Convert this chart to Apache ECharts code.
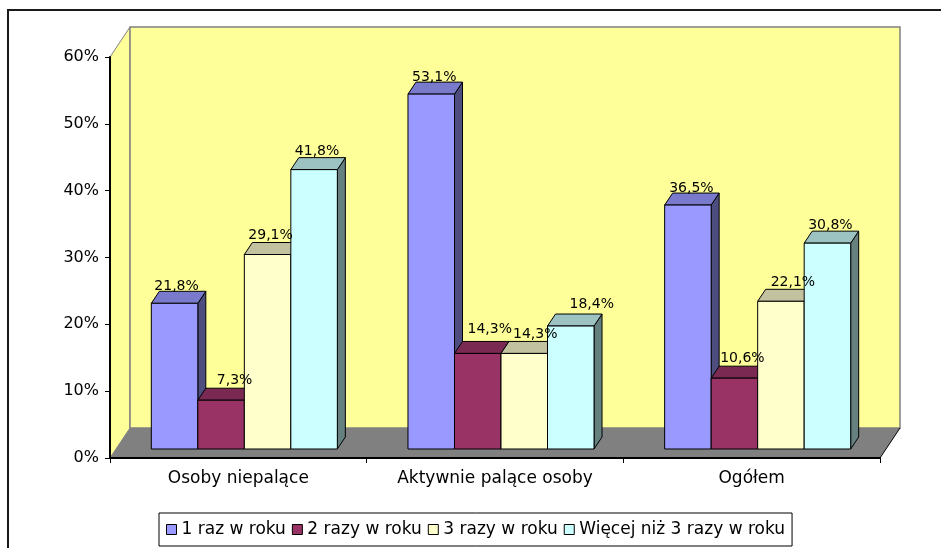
<!DOCTYPE html>
<html>
<head>
<meta charset="utf-8">
<title>Częstotliwość</title>
<script src="https://cdn.jsdelivr.net/npm/echarts@6.0.0/dist/echarts.min.js"></script>
<style>
  html, body { margin: 0; padding: 0; background: #fff; }
  #chart { width: 941px; height: 548px; }
</style>
</head>
<body>
<div id="chart"></div>
<script>
// Categories and series (percent of respondents)
const categories = ['Osoby niepalące', 'Aktywnie palące osoby', 'Ogółem'];
const seriesNames = ['1 raz w roku', '2 razy w roku', '3 razy w roku', 'Więcej niż 3 razy w roku'];
const onceAYear = [21.8, 53.1, 36.5];
const twiceAYear = [7.3, 14.3, 10.6];
const threeTimesAYear = [29.1, 14.3, 22.1];
const moreThanThree = [41.8, 18.4, 30.8];
const yMax = 60;
const yStep = 10;

const seriesValues = [onceAYear, twiceAYear, threeTimesAYear, moreThanThree];

// Face colours: front, top, side
const palette = [
  ['#9999FF', '#7A7ACC', '#4D4D80'],
  ['#993366', '#7A2952', '#4D1A33'],
  ['#FFFFCC', '#C2C2A0', '#808066'],
  ['#CCFFFF', '#9CC2C2', '#668080']
];

// Small per-label nudges (pixels) so the value labels sit like the Excel layout
const labelNudgeX = [[2, 3, 3.5], [13.5, 12, 8], [3, 11, 12], [3, 21, 3]];
const labelNudgeY = [[0, 0, 0], [-3, -7, -3], [-2, -2, -2], [-1, -5, -1]];

// Pseudo-3D geometry
const WALL_DEPTH = [20, -30];   // back wall offset from the front plane
const BAR_FRONT = [6, -9];      // bars start this far behind the front plane
const BAR_DEPTH = [8, -12];     // depth of each column
const BAR_FRAC = 0.1812;        // column width as a share of the category band

const fmt = v => v.toFixed(1).replace('.', ',') + '%';

function renderFrame(params, api) {
  const cs = params.coordSys;
  const x0 = cs.x, x1 = cs.x + cs.width;
  const yb = api.coord([0, 0])[1];
  const yt = api.coord([0, yMax])[1];
  const dx = WALL_DEPTH[0], dy = WALL_DEPTH[1];
  return {
    type: 'group',
    children: [
      { type: 'polygon', shape: { points: [[x0, yt], [x0 + dx, yt + dy], [x0 + dx, yb + dy], [x0, yb]] },
        style: { fill: '#FFFF99', stroke: '#808080', lineWidth: 1 } },
      { type: 'rect', shape: { x: x0 + dx, y: yt + dy, width: x1 - x0, height: yb - yt },
        style: { fill: '#FFFF99', stroke: '#808080', lineWidth: 1.5 } },
      { type: 'polygon', shape: { points: [[x0, yb], [x1, yb], [x1 + dx, yb + dy], [x0 + dx, yb + dy]] },
        style: { fill: '#808080' } },
      { type: 'line', shape: { x1: x1, y1: yb, x2: x1 + dx, y2: yb + dy },
        style: { stroke: '#000', lineWidth: 1 } }
    ]
  };
}

function makeBarRenderer(si) {
  return function (params, api) {
    const ci = api.value(0);
    const v = api.value(1);
    const band = api.size([1, 0])[0];
    const w = band * BAR_FRAC;
    const base = api.coord([ci, 0]);
    const top = api.coord([ci, v]);
    const cx = base[0] + BAR_FRONT[0];
    const x = cx - 2 * w + si * w;
    const yb = base[1] + BAR_FRONT[1];
    const yt = top[1] + BAR_FRONT[1];
    const ddx = BAR_DEPTH[0], ddy = BAR_DEPTH[1];
    const cols = palette[si];
    const edge = { stroke: '#000', lineWidth: 1, lineJoin: 'round' };
    const labelX = x + w / 2 + labelNudgeX[si][ci];
    const labelY = yt + ddy + labelNudgeY[si][ci] - 5;
    return {
      type: 'group',
      children: [
        { type: 'polygon', shape: { points: [[x + w, yt], [x + w + ddx, yt + ddy], [x + w + ddx, yb + ddy], [x + w, yb]] },
          style: Object.assign({ fill: cols[2] }, edge) },
        { type: 'polygon', shape: { points: [[x, yt], [x + w, yt], [x + w + ddx, yt + ddy], [x + ddx, yt + ddy]] },
          style: Object.assign({ fill: cols[1] }, edge) },
        { type: 'rect', shape: { x: x, y: yt, width: w, height: yb - yt },
          style: Object.assign({ fill: cols[0] }, edge) },
        { type: 'text', x: labelX, y: labelY, z2: 10,
          style: { text: fmt(v), fill: '#000', font: '14px "DejaVu Sans"', align: 'center', verticalAlign: 'middle' } }
      ]
    };
  };
}

const chart = echarts.init(document.getElementById('chart'), null, { renderer: 'canvas' });

const barSeries = seriesValues.map((vals, si) => ({
  name: seriesNames[si],
  type: 'custom',
  z: 2,
  renderItem: makeBarRenderer(si),
  itemStyle: { color: palette[si][0], borderColor: '#000', borderWidth: 1 },
  encode: { x: 0, y: 1 },
  data: vals.map((v, ci) => [ci, v])
}));

chart.setOption({
  animation: false,
  backgroundColor: '#fff',
  textStyle: { fontFamily: 'DejaVu Sans', color: '#000' },
  graphic: [{
    type: 'rect', z: 100, silent: true,
    shape: { x: 8, y: 10, width: 960, height: 560 },
    style: { fill: 'none', stroke: '#1a1a1a', lineWidth: 2 }
  }],
  grid: { left: 110, right: 61, top: 57, bottom: 90 },
  legend: {
    data: seriesNames,
    left: 159,
    top: 513,
    orient: 'horizontal',
    icon: 'rect',
    itemWidth: 10,
    itemHeight: 10,
    itemGap: 6,
    padding: [8, 7, 8, 7],
    borderColor: '#000',
    borderWidth: 1,
    selectedMode: false,
    itemStyle: { borderColor: '#000', borderWidth: 1 },
    textStyle: { fontFamily: 'DejaVu Sans', fontSize: 17, color: '#000', padding: [0, 0, 0, 0] }
  },
  xAxis: {
    type: 'category',
    data: categories,
    z: 5,
    boundaryGap: true,
    axisLine: { show: true, lineStyle: { color: '#000', width: 2 } },
    axisTick: { show: true, length: 5, inside: false, lineStyle: { color: '#000', width: 1 } },
    axisLabel: { margin: 12, fontSize: 17, fontFamily: 'DejaVu Sans', color: '#000' },
    splitLine: { show: false }
  },
  yAxis: {
    type: 'value',
    min: 0,
    max: yMax,
    interval: yStep,
    z: 5,
    axisLine: { show: true, lineStyle: { color: '#000', width: 2 } },
    axisTick: { show: true, length: 5, inside: false, lineStyle: { color: '#000', width: 1 } },
    axisLabel: { margin: 11, fontSize: 16, fontFamily: 'DejaVu Sans', color: '#000', formatter: '{value}%' },
    splitLine: { show: false }
  },
  series: [{
    name: 'frame',
    type: 'custom',
    z: 1,
    silent: true,
    renderItem: renderFrame,
    encode: { x: 0, y: 1 },
    data: [[0, 0]]
  }].concat(barSeries)
});
</script>
</body>
</html>
